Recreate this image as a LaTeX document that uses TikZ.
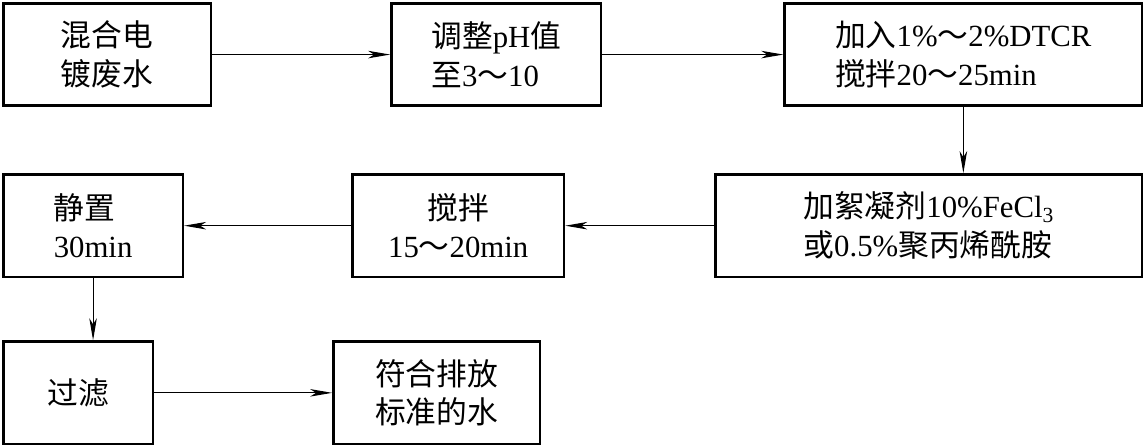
\documentclass[tikz,border=0pt]{standalone}
\usepackage{fontspec}
\setmainfont{Liberation Serif}
\newfontfamily\cjk{Noto Sans CJK SC}
\newcommand{\zh}[1]{{\cjk #1}}
\usetikzlibrary{arrows.meta,positioning,calc}
\tikzset{
  procbox/.style={
    rectangle, draw=black, line width=1.5pt, align=left,
    minimum height=2.05cm, inner sep=2pt,
    font=\fontsize{17.5}{22}\selectfont},
  flowarrow/.style={-{Stealth[length=4.4mm, width=1.5mm, inset=1.2mm]}, line width=0.6pt}
}

\begin{document}
\begin{tikzpicture}
    \useasboundingbox (0,0) rectangle (22.9,-8.96);

    % first row
    \node[procbox, minimum width=4.15cm, anchor=north west] (raw) at (0.04,-0.04)
        {\zh{混合电}\\\zh{镀废水}};
    \node[procbox, minimum width=4.19cm, right=3.56cm of raw] (ph)
        {\zh{调整}pH\zh{值}\\\zh{至}3\zh{～}10};
    \node[procbox, minimum width=7.15cm, right=3.62cm of ph] (dtcr)
        {\zh{加入}1\%\zh{～}2\%DTCR\\\zh{搅拌}20\zh{～}25min};

    \draw[flowarrow] (raw) -- (ph);
    \draw[flowarrow] (ph)  -- (dtcr);

    % second row
    \node[procbox, minimum width=8.53cm, below=1.32cm of dtcr.south east, anchor=north east] (floc)
        {\zh{加絮凝剂}10\%FeCl\textsubscript{3}\\\zh{或}0.5\%\zh{聚丙烯酰胺}};
    \node[procbox, minimum width=4.23cm, align=center, left=2.98cm of floc] (stir)
        {\zh{搅拌}\\15\zh{～}20min};
    \node[procbox, minimum width=3.59cm, left=3.34cm of stir] (settle)
        {\zh{静置}\\30min};

    \draw[flowarrow] (dtcr.south) -- (dtcr.south |- floc.north);
    \draw[flowarrow] (floc) -- (stir);
    \draw[flowarrow] (stir) -- (settle);

    % third row
    \node[procbox, minimum width=2.99cm, below=1.24cm of settle.south west, anchor=north west] (filter)
        {\zh{过滤}};
    \node[procbox, minimum width=4.13cm, right=3.56cm of filter] (clean)
        {\zh{符合排放}\\\zh{标准的水}};

    \draw[flowarrow] (settle.south) -- (settle.south |- filter.north);
    \draw[flowarrow] (filter) -- (clean);
\end{tikzpicture}
\end{document}
